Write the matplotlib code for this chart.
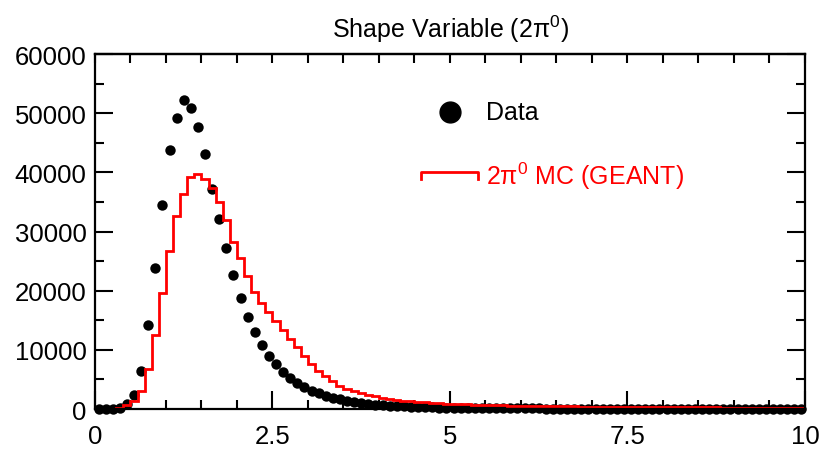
import numpy as np
import matplotlib
matplotlib.use("Agg")
import matplotlib.pyplot as plt
from matplotlib.ticker import MultipleLocator
from matplotlib.lines import Line2D

plt.rcParams['font.family'] = ['Liberation Sans', 'DejaVu Sans']
plt.rcParams['mathtext.fontset'] = 'custom'
plt.rcParams['mathtext.rm'] = 'Liberation Sans'
plt.rcParams['mathtext.it'] = 'Liberation Sans'

# 100 bins of width 0.1 from 0 to 10
x_lo, x_hi, nbins = 0.0, 10.0, 100

# Data (points at bin centres)
data = [0, 0, 0, 200, 800, 2400, 6400, 14200, 23800, 34500,
        43700, 49200, 52300, 50900, 47700, 43100, 37200, 32100, 27200, 22650,
        18700, 15600, 13050, 10800, 9000, 7600, 6300, 5200, 4400, 3700,
        3100, 2650, 2250, 1900, 1630, 1400, 1190, 1020, 870, 760,
        660, 580, 510, 450, 400, 355, 315, 280, 250, 225,
        200, 185, 170, 158, 147, 137, 128, 120, 113, 106,
        100, 95, 90, 85, 81, 77, 73, 70, 67, 64,
        61, 58, 56, 54, 52, 50, 48, 46, 44, 43,
        41, 40, 38, 37, 36, 35, 34, 33, 32, 31,
        30, 29, 28, 27, 27, 26, 25, 25, 24, 23]

# 2pi0 MC (GEANT) histogram contents
mc = [0, 0, 0, 100, 600, 1300, 3100, 6760, 12560, 19600,
      26700, 32700, 36400, 39150, 39700, 38900, 37300, 35000, 32000, 28300,
      25600, 22500, 19800, 17900, 16450, 14900, 13350, 11850, 10400, 9000,
      7600, 6500, 5600, 4800, 3950, 3400, 3000, 2650, 2400, 2150,
      1900, 1700, 1550, 1420, 1300, 1200, 1110, 1030, 960, 900,
      850, 810, 770, 735, 700, 670, 640, 615, 590, 565,
      545, 525, 505, 488, 470, 455, 440, 426, 413, 400,
      388, 377, 366, 356, 346, 337, 328, 320, 312, 304,
      297, 290, 284, 278, 272, 266, 261, 256, 251, 246,
      242, 238, 234, 230, 226, 222, 219, 216, 213, 210]

x_ticks = [0, 2.5, 5, 7.5, 10]
x_ticklabels = ["0", "2.5", "5", "7.5", "10"]

edges = np.linspace(x_lo, x_hi, nbins + 1)
centers = 0.5 * (edges[:-1] + edges[1:])

fig = plt.figure(figsize=(8.21, 4.52), dpi=100)
ax = fig.add_axes([0.1157, 0.0929, 0.8648, 0.7854])

ax.plot(centers, data, 'o', color='black', ms=7.5, mew=0, clip_on=False, zorder=2)
ax.stairs(mc, edges, color='red', lw=2.0, zorder=3)

ax.set_xlim(0, 10)
ax.set_ylim(0, 60000)
ax.set_xticks(x_ticks)
ax.set_xticklabels(x_ticklabels)
ax.xaxis.set_minor_locator(MultipleLocator(0.5))
ax.yaxis.set_major_locator(MultipleLocator(10000))
ax.yaxis.set_minor_locator(MultipleLocator(5000))

ax.tick_params(which='both', direction='in', width=1.5, labelsize=18.5)
ax.tick_params(which='major', length=13, right=True)
ax.tick_params(which='minor', length=6.5, right=True)
ax.tick_params(axis='x', which='major', pad=11)
ax.tick_params(axis='y', which='major', pad=6)

for sp in ax.spines.values():
    sp.set_linewidth(1.6)
    sp.set_zorder(4)

top = ax.secondary_xaxis('top')
top.xaxis.set_major_locator(MultipleLocator(0.5))
top.tick_params(direction='in', length=6.5, width=1.5, labeltop=False)
top.spines['top'].set_linewidth(1.6)

ax.set_title("Shape Variable (2\u03c0$^{0}$)", fontsize=18, pad=12)

# legend drawn by hand
ax.add_line(Line2D([0.5], [0.8366], marker='o', ms=15, color='black',
                   transform=ax.transAxes, clip_on=False))
ax.text(0.551, 0.8366, "Data", transform=ax.transAxes, fontsize=18,
        va='center', ha='left')
ax.add_line(Line2D([0.459, 0.459, 0.539, 0.539], [0.648, 0.6676, 0.6676, 0.648],
                   color='red', lw=2.0, transform=ax.transAxes, clip_on=False))
ax.text(0.551, 0.659, "2\u03c0$^{0}$ MC (GEANT)", transform=ax.transAxes,
        fontsize=18, va='center', ha='left', color='red')

fig.savefig("out.png", dpi=100)
